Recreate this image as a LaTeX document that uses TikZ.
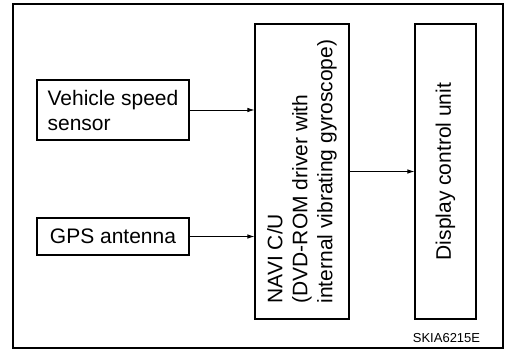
\documentclass[tikz,border=0pt]{standalone}
\usepackage{fontspec}
\setmainfont{Liberation Sans}
\usetikzlibrary{positioning,arrows.meta}

\begin{document}
\begin{tikzpicture}[x=1pt, y=-1pt,
  every node/.style={font=\fontsize{21}{25}\selectfont},
  unit/.style={draw, line width=1.1pt, inner sep=0pt},
  link/.style={-{Latex[length=7pt,width=4.5pt]}, line width=0.8pt}]
\useasboundingbox (0,0) rectangle (506,350);
\draw[line width=2.5pt] (13,4) rectangle (503,348);
\node[unit, minimum width=152pt, minimum height=60pt, align=left] (vss) at (113,110) {Vehicle speed\\sensor};
\node[unit, minimum width=152pt, minimum height=37pt] (gps) at (113,236.5) {GPS antenna};
\node[unit, rotate=90, minimum width=295pt, minimum height=94pt, align=left] (navi) at (302,171.5) {NAVI C/U\\(DVD-ROM driver with\\internal vibrating gyroscope)};
\node[unit, rotate=90, minimum width=295pt, minimum height=61pt] (dcu) at (445.5,171.5) {Display control unit};
\node[font=\fontsize{13}{15}\selectfont] (code) at (446.5,338) {SKIA6215E};
\draw[link] (vss.east) -- (vss.east -| navi.north);
\draw[link] (gps.east) -- (gps.east -| navi.north);
\draw[link] (navi.south) -- (dcu.north);
\end{tikzpicture}
\end{document}
